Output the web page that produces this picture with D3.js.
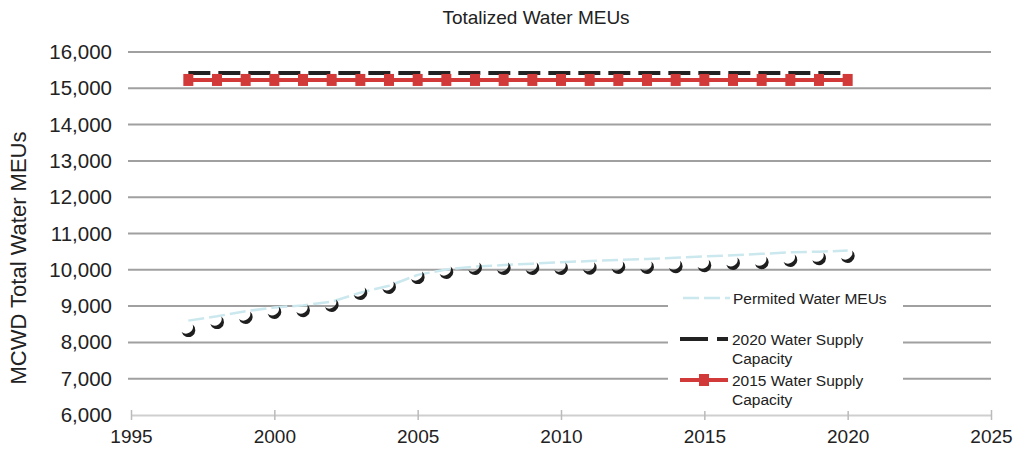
<!DOCTYPE html>
<html><head><meta charset="utf-8">
<script src="https://cdn.jsdelivr.net/npm/d3@7"></script>
<style>body{margin:0;background:#fff;} svg{display:block;} text{font-family:"Liberation Sans",Arial,sans-serif;fill:#222;}</style>
</head><body>
<svg id="c" width="1019" height="460"></svg>
<script>
const years = [1997,1998,1999,2000,2001,2002,2003,2004,2005,2006,2007,2008,2009,2010,2011,2012,2013,2014,2015,2016,2017,2018,2019,2020];
const totalMEUs = [8340,8560,8700,8840,8890,9030,9360,9530,9800,9940,10050,10050,10050,10050,10060,10080,10080,10100,10130,10190,10210,10270,10320,10380];
const permittedMEUs = [8600,8720,8860,8960,9020,9120,9370,9560,9860,10010,10090,10130,10170,10210,10240,10270,10300,10330,10370,10400,10440,10480,10500,10530];
const supply2020 = years.map(() => 15420);
const supply2015 = years.map(() => 15230);
const yTicks = [6000,7000,8000,9000,10000,11000,12000,13000,14000,15000,16000];
const xTicks = [1995,2000,2005,2010,2015,2020,2025];
const title = "Totalized Water MEUs";
const yLabel = "MCWD Total Water MEUs";
const legendItems = ["Permited Water MEUs", ["2020 Water Supply","Capacity"], ["2015 Water Supply","Capacity"]];

const svg = d3.select("#c");
const x = d3.scaleLinear().domain([1995,2025]).range([131,991]);
const y = d3.scaleLinear().domain([6000,16000]).range([415,52]);

svg.append("text").attr("x",536).attr("y",24).attr("text-anchor","middle").attr("font-size",19).text(title);
svg.append("text").attr("transform","translate(26,258) rotate(-90)").attr("text-anchor","middle").attr("font-size",22).text(yLabel);

svg.append("g").selectAll("line").data(yTicks.filter(d=>d>6000)).join("line")
  .attr("x1",128).attr("x2",991).attr("y1",d=>y(d)).attr("y2",d=>y(d))
  .attr("stroke","#a0a0a0").attr("stroke-width",2);

const xAxis = svg.append("g").attr("transform",`translate(0,${y(6000)})`)
  .call(d3.axisBottom(x).tickValues(xTicks).tickFormat(d3.format("d")).tickSize(0).tickPadding(15));
xAxis.select(".domain").attr("stroke","#cfcfcf").attr("stroke-width",2);
xAxis.selectAll(".tick line").remove();
xAxis.selectAll(".tick").append("line").attr("y1",-5).attr("y2",5).attr("stroke","#bbb").attr("stroke-width",1.5);
xAxis.selectAll("text").attr("font-size",19).attr("fill","#222").attr("font-family","Liberation Sans, Arial, sans-serif");

const yAxis = svg.append("g").attr("transform","translate(128,0)")
  .call(d3.axisLeft(y).tickValues(yTicks).tickFormat(d3.format(",")).tickSize(0).tickPadding(16));
yAxis.select(".domain").remove();
yAxis.selectAll("text").attr("font-size",20.5).attr("fill","#222").attr("font-family","Liberation Sans, Arial, sans-serif");

const line = d3.line().x((d,i)=>x(years[i])).y(d=>y(d));

svg.append("path").datum(permittedMEUs).attr("d",line).attr("fill","none")
  .attr("stroke","#cbe8ee").attr("stroke-width",2.5).attr("stroke-dasharray","16,5");

svg.append("path").datum(supply2020).attr("d",line).attr("fill","none")
  .attr("stroke","#222").attr("stroke-width",4).attr("stroke-dasharray","22,8");

svg.append("path").datum(supply2015).attr("d",line).attr("fill","none")
  .attr("stroke","#d23a3a").attr("stroke-width",4);
svg.append("g").selectAll("rect").data(supply2015).join("rect")
  .attr("x",(d,i)=>x(years[i])-5).attr("y",d=>y(d)-6).attr("width",10).attr("height",12)
  .attr("fill","#d23a3a");

const s = 7/6;
const crescent = `M${-5.76*s},${1.67*s} A${6*s},${6*s} 0 1,0 ${3.76*s},${-4.67*s} A${6*s},${6*s} 0 0,1 ${-5.76*s},${1.67*s}Z`;
svg.append("g").selectAll("path").data(totalMEUs).join("path")
  .attr("transform",(d,i)=>`translate(${x(years[i])},${y(d)})`)
  .attr("d",crescent).attr("fill","#1e1e1e");

const lg = svg.append("g");
lg.append("rect").attr("x",668).attr("y",283).attr("width",235).attr("height",128).attr("fill","#fff");
lg.append("line").attr("x1",683).attr("x2",730).attr("y1",298).attr("y2",298)
  .attr("stroke","#cbe8ee").attr("stroke-width",2.5).attr("stroke-dasharray","16,5");
lg.append("text").attr("x",733).attr("y",304).attr("font-size",15.5).text(legendItems[0]);
lg.append("line").attr("x1",680).attr("x2",728).attr("y1",339).attr("y2",339)
  .attr("stroke","#222").attr("stroke-width",4).attr("stroke-dasharray","28,9");
lg.selectAll("t2").data(legendItems[1]).join("text").attr("x",732).attr("y",(d,i)=>345+i*19).attr("font-size",15.5).text(d=>d);
lg.append("line").attr("x1",680).attr("x2",728).attr("y1",380).attr("y2",380)
  .attr("stroke","#d23a3a").attr("stroke-width",4);
lg.append("rect").attr("x",699).attr("y",374).attr("width",10).attr("height",12).attr("fill","#d23a3a");
lg.selectAll("t3").data(legendItems[2]).join("text").attr("x",732).attr("y",(d,i)=>386+i*19).attr("font-size",15.5).text(d=>d);
</script>
</body></html>
